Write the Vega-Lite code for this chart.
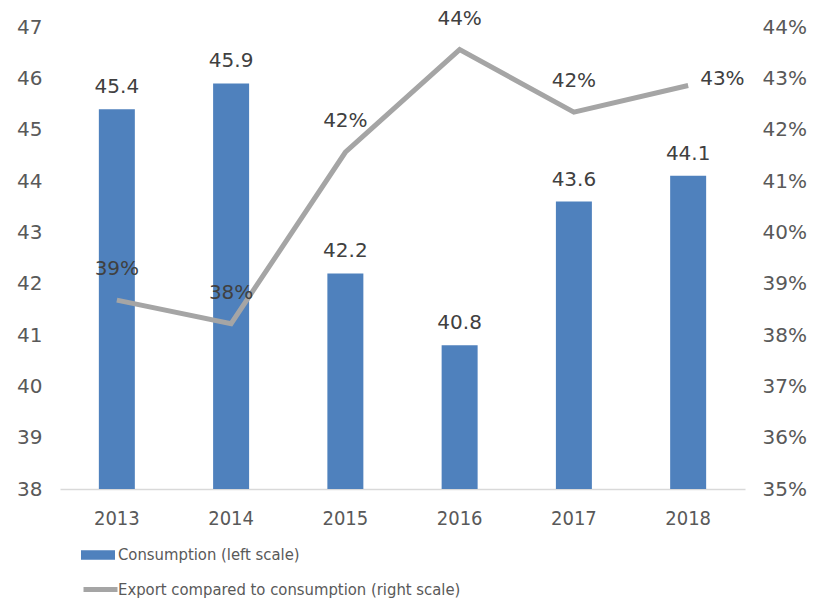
{
  "$schema": "https://vega.github.io/schema/vega-lite/v6.json",
  "width": 685,
  "height": 462,
  "autosize": {"type": "none"},
  "padding": {"left": 60, "top": 27, "right": 73, "bottom": 113},
  "background": "white",
  "config": {
    "view": {"stroke": null},
    "font": "DejaVu Sans"
  },
  "data": {
    "values": [
      {"year": "2013", "consumption": 45.4, "export": 0.3868, "lbl": "39%"},
      {"year": "2014", "consumption": 45.9, "export": 0.3822, "lbl": "38%"},
      {"year": "2015", "consumption": 42.2, "export": 0.4156, "lbl": "42%"},
      {"year": "2016", "consumption": 40.8, "export": 0.4356, "lbl": "44%"},
      {"year": "2017", "consumption": 43.6, "export": 0.4234, "lbl": "42%"},
      {"year": "2018", "consumption": 44.1, "export": 0.4286, "lbl": "43%"}
    ]
  },
  "encoding": {
    "x": {
      "field": "year", "type": "nominal",
      "scale": {"paddingInner": 0.685, "paddingOuter": 0.34},
      "axis": {
        "title": null, "labelAngle": 0, "ticks": false,
        "domainColor": "#D9D9D9", "domainWidth": 1.5,
        "labelFont": "DejaVu Sans Condensed", "labelFontSize": 20,
        "labelColor": "#595959", "labelPadding": 19
      }
    }
  },
  "layer": [
    {
      "layer": [
        {
          "mark": {"type": "bar", "color": "#4F81BD", "clip": true},
          "encoding": {
            "y": {
              "field": "consumption", "type": "quantitative",
              "scale": {"domain": [38, 47], "zero": false, "nice": false},
              "axis": {
                "title": null, "grid": false, "domain": false, "ticks": false,
                "values": [38, 39, 40, 41, 42, 43, 44, 45, 46, 47],
                "labelFontSize": 20, "labelColor": "#595959", "labelPadding": 18
              }
            },
            "fill": {
              "datum": "Consumption (left scale)", "type": "nominal",
              "scale": {"range": ["#4F81BD"]},
              "legend": {
                "title": null, "orient": "none", "legendX": 21, "legendY": 511,
                "symbolType": "M-1,-0.28H1V0.28H-1Z", "symbolSize": 1156,
                "symbolStrokeWidth": 0, "labelLimit": 0,
                "labelFont": "DejaVu Sans Condensed", "labelFontSize": 16.5,
                "labelColor": "#595959", "labelOffset": 3
              }
            }
          }
        },
        {
          "mark": {"type": "text", "baseline": "bottom", "dy": -12, "fontSize": 20, "color": "#404040"},
          "encoding": {
            "y": {"field": "consumption", "type": "quantitative"},
            "text": {"field": "consumption", "type": "quantitative", "format": ".1f"}
          }
        }
      ]
    },
    {
      "layer": [
        {
          "mark": {"type": "line", "strokeWidth": 5, "color": "#A5A5A5"},
          "encoding": {
            "y": {
              "field": "export", "type": "quantitative",
              "scale": {"domain": [0.35, 0.44], "zero": false, "nice": false},
              "axis": {
                "title": null, "grid": false, "domain": false, "ticks": false,
                "orient": "right", "format": ".0%",
                "values": [0.35, 0.36, 0.37, 0.38, 0.39, 0.40, 0.41, 0.42, 0.43, 0.44],
                "labelFontSize": 20, "labelColor": "#595959", "labelPadding": 17
              }
            },
            "stroke": {
              "datum": "Export compared to consumption (right scale)", "type": "nominal",
              "scale": {"range": ["#A5A5A5"]},
              "legend": {
                "title": null, "orient": "none", "legendX": 21, "legendY": 543,
                "symbolType": "stroke", "symbolSize": 1156, "symbolStrokeWidth": 5,
                "labelLimit": 0,
                "labelFont": "DejaVu Sans Condensed", "labelFontSize": 16.5,
                "labelColor": "#595959", "labelOffset": -2
              }
            }
          }
        },
        {
          "transform": [{"filter": "datum.year != '2018'"}],
          "mark": {"type": "text", "baseline": "middle", "dy": -31, "fontSize": 20, "color": "#404040"},
          "encoding": {
            "y": {"field": "export", "type": "quantitative"},
            "text": {"field": "lbl", "type": "nominal"}
          }
        },
        {
          "transform": [{"filter": "datum.year == '2018'"}],
          "mark": {"type": "text", "baseline": "middle", "align": "left", "dx": 12, "dy": -7, "fontSize": 20, "color": "#404040"},
          "encoding": {
            "y": {"field": "export", "type": "quantitative"},
            "text": {"field": "lbl", "type": "nominal"}
          }
        }
      ]
    }
  ],
  "resolve": {"scale": {"y": "independent"}}
}
